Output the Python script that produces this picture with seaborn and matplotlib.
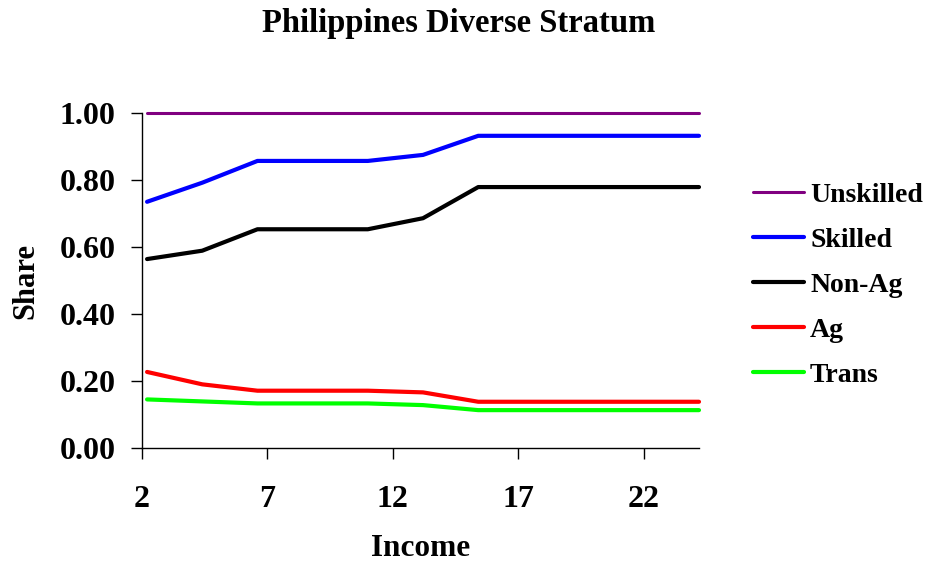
import numpy as np
import pandas as pd
import matplotlib
matplotlib.use("Agg")
import matplotlib.pyplot as plt
import seaborn as sns

# income points (x) and shares
income = [2.2, 4.4, 6.6, 8.8, 11.0, 13.2, 15.4, 17.6, 19.8, 22.0, 24.2]
unskilled = [1.0, 1.0, 1.0, 1.0, 1.0, 1.0, 1.0, 1.0, 1.0, 1.0, 1.0]
skilled = [0.735, 0.792, 0.857, 0.857, 0.857, 0.875, 0.932, 0.932, 0.932, 0.932, 0.932]
non_ag = [0.564, 0.589, 0.653, 0.653, 0.653, 0.686, 0.779, 0.779, 0.779, 0.779, 0.779]
ag = [0.227, 0.190, 0.171, 0.171, 0.171, 0.166, 0.138, 0.138, 0.138, 0.138, 0.138]
trans = [0.145, 0.139, 0.133, 0.133, 0.133, 0.128, 0.113, 0.113, 0.113, 0.113, 0.113]

series_names = ["Unskilled", "Skilled", "Non-Ag", "Ag", "Trans"]
colors = ["#800080", "#0000FF", "#000000", "#FF0000", "#00FF00"]
widths = [2.2, 3.0, 3.0, 3.0, 3.0]

x_ticks = [2, 7, 12, 17, 22]
y_ticks = [0.0, 0.2, 0.4, 0.6, 0.8, 1.0]

df = pd.DataFrame({"Income": income, "Unskilled": unskilled, "Skilled": skilled,
                   "Non-Ag": non_ag, "Ag": ag, "Trans": trans})
long_df = df.melt(id_vars="Income", var_name="series", value_name="Share")

sns.set_style("ticks")
plt.rcParams["font.family"] = ["Liberation Serif", "DejaVu Serif"]
plt.rcParams["font.weight"] = "bold"
plt.rcParams["text.color"] = "black"
plt.rcParams["axes.labelcolor"] = "black"

fig = plt.figure(figsize=(9.32, 5.68), dpi=100)
ax = fig.add_axes([0.1524, 0.2113, 0.5976, 0.5897])

sns.lineplot(data=long_df, x="Income", y="Share", hue="series", hue_order=series_names,
             palette=dict(zip(series_names, colors)), ax=ax, legend=False,
             solid_capstyle="round", solid_joinstyle="round")
for line, lw in zip(ax.get_lines(), widths):
    line.set_linewidth(lw)
    line.set_clip_on(False)

ax.set_xlim(2, 24.2)
ax.set_ylim(0, 1.0)
ax.set_xticks(x_ticks)
ax.set_yticks(y_ticks)
ax.set_yticklabels([f"{v:.2f}" for v in y_ticks])
sns.despine(ax=ax)
for side in ["left", "bottom"]:
    ax.spines[side].set_linewidth(1.0)
    ax.spines[side].set_color("black")
ax.tick_params(axis="both", direction="out", length=8, width=1.0, color="black",
               labelsize=23, labelcolor="black")
ax.tick_params(axis="x", pad=19)
ax.tick_params(axis="y", pad=11)
for lbl in ax.get_xticklabels() + ax.get_yticklabels():
    lbl.set_fontweight("bold")

ax.set_xlabel("Income", fontsize=22.5, fontweight="bold", labelpad=14, color="black")
ax.set_ylabel("Share", fontsize=22, fontweight="bold", labelpad=14, color="black")

fig.text(0.492, 0.958, "Philippines Diverse Stratum", ha="center", va="center",
         fontsize=23.5, fontweight="bold", color="black")

handles = [plt.Line2D([], [], color=c, lw=w) for c, w in zip(colors, widths)]
fig.legend(handles, series_names, loc="center left", bbox_to_anchor=(0.808, 0.498),
           frameon=False, prop={"weight": "bold", "size": 20},
           handlelength=1.85, handletextpad=0.2, labelspacing=0.7, borderpad=0,
           borderaxespad=0, labelcolor="black")

fig.savefig("out.png", dpi=100)
